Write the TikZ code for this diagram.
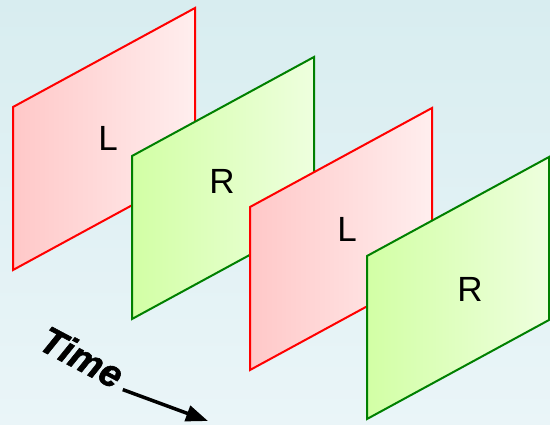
\documentclass[tikz,border=0pt]{standalone}
\usepackage{fontspec}
\setmainfont{Liberation Sans}
\newfontfamily\heavyfont[FakeBold=1.5]{Liberation Sans Bold Italic}
\usetikzlibrary{arrows.meta, positioning}
\definecolor{bgtop}{RGB}{216,237,240}
\definecolor{bgbot}{RGB}{234,245,248}
\definecolor{redL}{RGB}{255,200,200}
\definecolor{redR}{RGB}{255,238,238}
\definecolor{greenL}{RGB}{210,255,165}
\definecolor{greenR}{RGB}{238,255,222}
\definecolor{greenline}{RGB}{0,128,0}
\tikzstyle{every node}=[font=\fontsize{35}{35}\selectfont]
\tikzstyle{redframe}=[draw=red, line width=2pt, left color=redL, right color=redR]
\tikzstyle{greenframe}=[draw=greenline, line width=2pt, left color=greenL, right color=greenR]

\begin{document}
\begin{tikzpicture}[x=1pt, y=-1pt]
  \shade[top color=bgtop, bottom color=bgbot] (0,0) rectangle (550,425);
  \useasboundingbox (0,0) rectangle (550,425);
  % the four frames, back to front
  \foreach \x/\y/\s/\t/\lx/\ly [count=\i] in {13/107/redframe/L/108/138,
      132/156/greenframe/R/222/181, 250/207/redframe/L/347/229,
      367/256/greenframe/R/470/289}
  {
    \path[\s] (\x,\y) -- ++(182,-99) -- ++(0,163) -- ++(-182,99) -- cycle;
    \node (lab\i) at (\lx,\ly) {\t};
  }
  \node[font=\fontsize{38}{38}\selectfont\heavyfont, rotate=-28, inner sep=1pt] (time) at (82,357) {Time};
  \coordinate (tip) at (208,421);
  \draw[-{Triangle[length=22pt, width=16pt]}, line width=3.5pt]
    ([shift={(8,-2)}]time.south east) -- (tip);
\end{tikzpicture}
\end{document}
